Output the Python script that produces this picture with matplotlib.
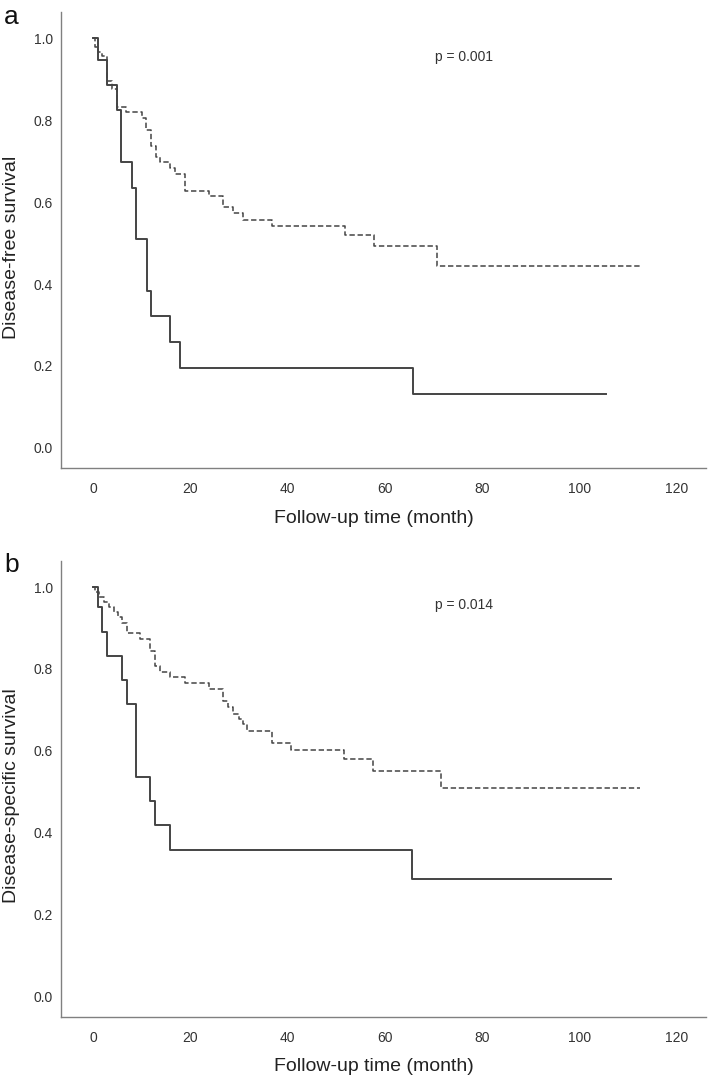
import matplotlib
matplotlib.use('Agg')
import matplotlib.pyplot as plt

plt.rcParams['font.family'] = ['Liberation Sans', 'DejaVu Sans']

# panel a: disease-free survival
dfs_solid_t = [0, 1.0, 2.8, 4.9, 5.8, 7.9, 8.9, 11.0, 12.0, 15.8, 17.9, 65.7, 105.5]
dfs_solid_s = [1.0, 0.948, 0.885, 0.825, 0.697, 0.634, 0.51, 0.384, 0.321, 0.258, 0.195, 0.132, 0.132]
dfs_dash_t = [0, 0.3, 1.1, 1.8, 2.8, 3.8, 4.9, 6.8, 10.0, 10.9, 11.9, 12.9, 13.8, 15.8, 16.8,
              18.9, 23.9, 26.8, 28.8, 30.8, 36.7, 51.8, 57.7, 70.6, 112.7]
dfs_dash_s = [1.0, 0.98, 0.967, 0.958, 0.895, 0.877, 0.832, 0.819, 0.805, 0.776, 0.737, 0.711,
              0.697, 0.683, 0.669, 0.628, 0.614, 0.588, 0.573, 0.557, 0.541, 0.520, 0.492, 0.445, 0.445]

# panel b: disease-specific survival
dss_solid_t = [0, 1.0, 1.8, 2.8, 5.9, 6.9, 8.8, 11.7, 12.7, 15.8, 65.6, 106.4]
dss_solid_s = [1.0, 0.951, 0.891, 0.832, 0.773, 0.714, 0.536, 0.478, 0.419, 0.359, 0.288, 0.288]
dss_dash_t = [0, 0.3, 1.3, 2.3, 3.2, 4.2, 5.2, 5.9, 6.9, 9.7, 11.6, 12.7, 13.8, 15.8, 18.9, 23.9,
              26.8, 27.8, 28.8, 29.9, 30.8, 31.7, 36.7, 40.6, 51.6, 57.6, 71.5, 112.4]
dss_dash_s = [1.0, 0.988, 0.976, 0.964, 0.952, 0.94, 0.928, 0.912, 0.887, 0.874, 0.845, 0.808,
              0.792, 0.78, 0.765, 0.751, 0.722, 0.706, 0.69, 0.678, 0.665, 0.649, 0.618, 0.602,
              0.58, 0.551, 0.51, 0.51]

panels = [
    ('a', 'Disease-free survival', 'p = 0.001', dfs_solid_t, dfs_solid_s, dfs_dash_t, dfs_dash_s, 0.5647),
    ('b', 'Disease-specific survival', 'p = 0.014', dss_solid_t, dss_solid_s, dss_dash_t, dss_dash_s, 0.0543),
]

fig = plt.figure(figsize=(7.09, 10.75), dpi=100)

for letter, ylab, ptxt, st, ss, dt, ds, bottom in panels:
    ax = fig.add_axes([0.086, bottom, 0.910, 0.424])
    ax.step(dt, ds, where='post', color='#444444', lw=1.1, linestyle=(0, (3.5, 1.8)))
    ax.step(st, ss, where='post', color='#444444', lw=1.4)

    ax.set_xlim(-6.6, 126)
    ax.set_ylim(-0.049, 1.064)
    ax.set_xticks([0, 20, 40, 60, 80, 100, 120])
    ax.set_yticks([0.0, 0.2, 0.4, 0.6, 0.8, 1.0])
    ax.set_yticklabels(['0.0', '0.2', '0.4', '0.6', '0.8', '1.0'])
    ax.tick_params(length=0, labelsize=10, colors='#333333')
    ax.tick_params(axis='x', pad=10)
    ax.tick_params(axis='y', pad=6)

    for side in ['top', 'right']:
        ax.spines[side].set_visible(False)
    for side in ['left', 'bottom']:
        ax.spines[side].set_color('#808080')
        ax.spines[side].set_linewidth(1.0)

    ax.set_ylabel(ylab, fontsize=14, color='#222222', va='center')
    ax.yaxis.set_label_coords(-0.077, 0.485)
    ax.set_xlabel('Follow-up time (month)', fontsize=14, color='#222222', va='center')
    ax.xaxis.set_label_coords(0.485, -0.11)

    ax.text(70.3, 0.955, ptxt, fontsize=10, color='#333333', ha='left', va='center')
    ax.text(-0.077, 0.99, letter, transform=ax.transAxes, fontsize=19, color='#111111',
            ha='center', va='center')

fig.savefig('out.png', dpi=100)
